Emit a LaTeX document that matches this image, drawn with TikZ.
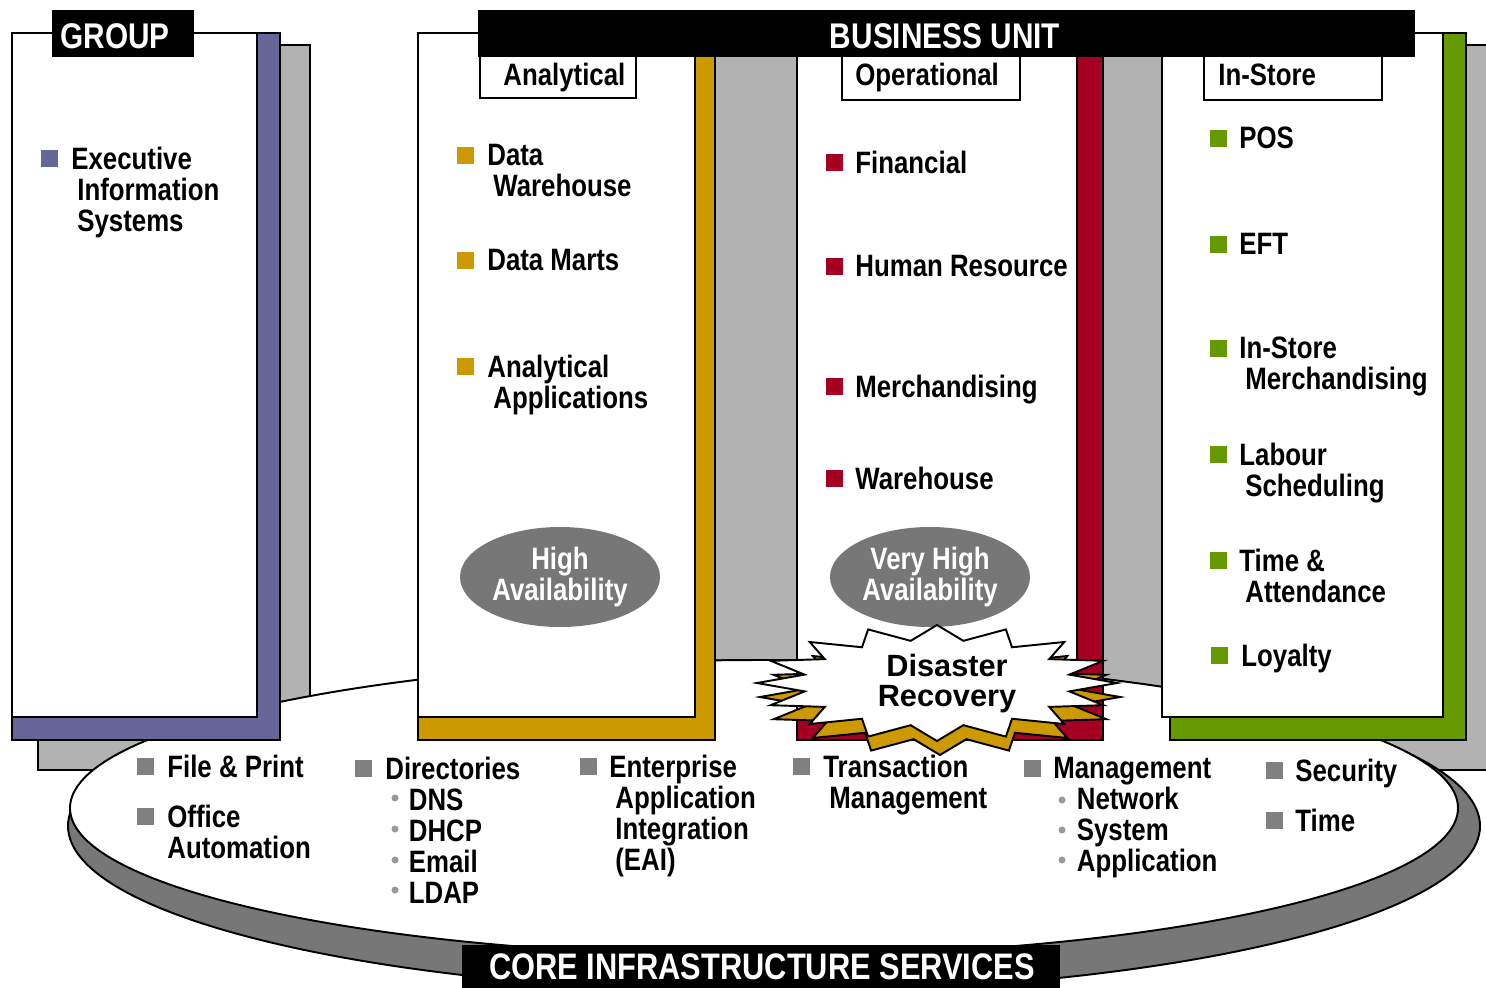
\documentclass[tikz,border=0pt]{standalone}
\usepackage{fontspec}
\setmainfont{Liberation Sans}
\newfontfamily\narrowfont{Liberation Sans}[FakeStretch=0.835]
\usepackage{xcolor}
\usepackage{tikz}
\usetikzlibrary{shapes.geometric}

\definecolor{grpcol}{HTML}{666699}
\definecolor{anacol}{HTML}{CC9900}
\definecolor{opcol}{HTML}{A50021}
\definecolor{stcol}{HTML}{669900}
\definecolor{shade}{HTML}{B2B2B2}
\definecolor{rimgray}{HTML}{777777}
\definecolor{coresq}{HTML}{808080}
\definecolor{dotcol}{HTML}{999999}

\newcommand{\itemfont}{\narrowfont\bfseries\fontsize{17.6}{17.6}\selectfont}
\newcommand{\headfont}{\narrowfont\bfseries\fontsize{20.3}{20.3}\selectfont}
\newcommand{\corefont}{\narrowfont\bfseries\fontsize{21}{21}\selectfont}
\newcommand{\hind}{\hspace*{1.2mm}}
\newcommand{\subind}{\hspace*{4.7mm}}

\begin{document}
\begin{tikzpicture}[
    x=0.2mm, y=-0.2mm,
    edge/.style={draw=black, line width=1.1pt},
    shadow/.style={edge, fill=shade},
    bar/.style={fill=black},
    bartext/.style={text=white, font=\headfont, inner sep=0pt},
    tab/.style={edge, fill=white},
    tabtext/.style={font=\itemfont, anchor=base west, inner sep=0pt},
    item/.style={font=\itemfont, anchor=north west, inner sep=0pt, align=left},
    avail/.style={ellipse, fill=rimgray, text=white, minimum width=40mm, minimum height=20mm,
                  inner sep=0pt, align=center, font=\itemfont},
    burst/.style={edge, line join=miter},
]

\useasboundingbox[fill=white] (0,0) rectangle (1486,987);
\clip (0,0) rectangle (1486,987);

% shadows behind the panels
\draw[shadow] (38,45) rectangle (310,770);
\draw[shadow] (444,45) rectangle (800,770);
\draw[shadow] (823,45) rectangle (1190,770);
\draw[shadow] (1190,45) rectangle (1500,770);

% core disc
\draw[edge, fill=rimgray] (774,826) ellipse [x radius=706, y radius=166];
\draw[edge, fill=white] (764,808) ellipse [x radius=694, y radius=148];

% panels
\foreach \l/\r/\w/\c in {12/280/257/grpcol, 418/715/695/anacol, 797/1103/1077/opcol}{
    \draw[edge, fill=\c] (\l,33) rectangle (\r,740);
    \draw[edge, fill=white] (\l,33) rectangle (\w,717);
}
\draw[edge, fill=stcol] (1170,33) rectangle (1466,740);
\draw[edge, fill=white] (1162,33) rectangle (1443,717);

% tabs
\draw[tab] (480,50) rectangle (636,98);
\draw[tab] (842,50) rectangle (1020,100);
\draw[tab] (1204,50) rectangle (1382,100);

% title bars
\fill[bar] (52,10) rectangle (194,57);
\fill[bar] (478,10) rectangle (1415,57);
\fill[bar] (462,945) rectangle (1060,995);

\node[bartext] at (115,36) (grp) {GROUP};
\node[bartext] at (945,36) (bunit) {BUSINESS UNIT};
\node[bartext, font=\corefont] at (762,967) (core) {CORE INFRASTRUCTURE SERVICES};

\node[tabtext] at (503,85) (ana) {Analytical};
\node[tabtext] at (855,85) (ope) {Operational};
\node[tabtext] at (1218,85) (ist) {In-Store};

% availability bubbles
\node[avail] at (560,577) (ha) {High\\Availability};
\node[avail] at (930,577) (vha) {Very High\\Availability};

% disaster recovery burst
\foreach \dx/\dy/\c in {3/14/anacol, 0/0/white}
    \draw[burst, fill=\c] (937+\dx,625+\dy)
        \foreach \i in {1,...,31}{
            -- ({937+\dx+ifthenelse(isodd(\i),135,180)*cos(-90+11.25*\i)},
                {683+\dy+ifthenelse(isodd(\i),43,58)*sin(-90+11.25*\i)})
        } -- cycle;
\node[font=\bfseries\fontsize{17.5}{17.1}\selectfont, align=center, inner sep=0pt]
    at (947,684) (drec) {Disaster\\Recovery};

% bullets
\foreach \x/\y/\c in {49/158/grpcol, 465/155/anacol, 465/260/anacol, 465/366/anacol,
        834/162/opcol, 834/266/opcol, 834/386/opcol, 834/478/opcol,
        1218/138/stcol, 1218/244/stcol, 1218/348/stcol, 1218/454/stcol, 1218/560/stcol, 1219/655/stcol,
        145/766/coresq, 145/816/coresq, 363/768/coresq, 588/766/coresq,
        801/766/coresq, 1032/768/coresq, 1274/770/coresq, 1274/820/coresq}
    \fill[\c] (\x-8.5,\y-8.5) rectangle (\x+8.5,\y+8.5);
\foreach \x/\y in {395/798, 395/829, 395/860, 395/890, 1062/800, 1062/830, 1062/860}
    \fill[dotcol] (\x,\y) circle (3.5);

% group
\node[item] at (71,147) (eis) {Executive\\\hind Information\\\hind Systems};

% analytical
\node[item] at (487,144) (dwh) {Data\\\hind Warehouse};
\node[item] at (487,249) (dmart) {Data Marts};
\node[item] at (487,355) (aapp) {Analytical\\\hind Applications};

% operational
\node[item] at (855,151) (fin) {Financial};
\node[item] at (855,255) (hres) {Human Resource};
\node[item] at (855,375) (merch) {Merchandising};
\node[item] at (855,467) (whse) {Warehouse};

% in-store
\node[item] at (1239,127) (pos) {POS};
\node[item] at (1239,233) (eft) {EFT};
\node[item] at (1239,337) (ismerch) {In-Store\\\hind Merchandising};
\node[item] at (1239,443) (labour) {Labour\\\hind Scheduling};
\node[item] at (1239,549) (tna) {Time \&\\\hind Attendance};
\node[item] at (1241,644) (loyal) {Loyalty};

% core services
\node[item] at (167,755) (fprint) {File \& Print};
\node[item] at (167,805) (oauto) {Office\\Automation};
\node[item] at (385,757) (dirs) {Directories\\\subind DNS\\\subind DHCP\\\subind Email\\\subind LDAP};
\node[item] at (609,755) (eai) {Enterprise\\\hind Application\\\hind Integration\\\hind (EAI)};
\node[item] at (823,755) (trans) {Transaction\\\hind Management};
\node[item] at (1053,757) (mgmt) {Management\\\subind Network\\\subind System\\\subind Application};
\node[item] at (1295,759) (secu) {Security};
\node[item] at (1295,809) (ctime) {Time};

\end{tikzpicture}
\end{document}
